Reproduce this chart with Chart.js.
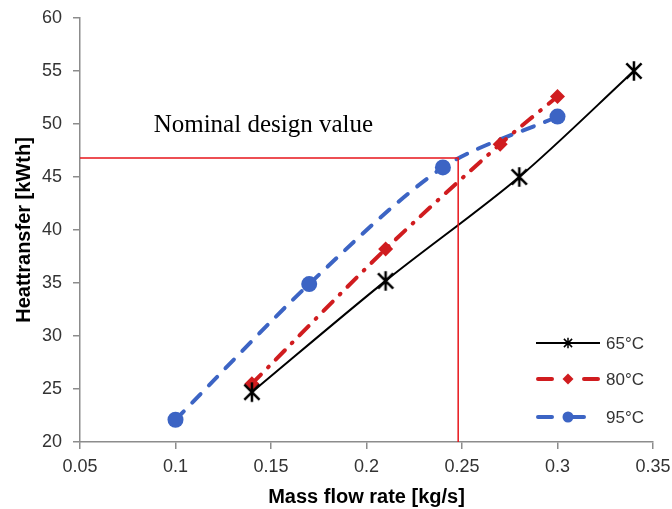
<!DOCTYPE html>
<html>
<head>
<meta charset="utf-8">
<script src="https://cdn.jsdelivr.net/npm/chart.js@4/dist/chart.umd.min.js"></script>
<style>
  html, body { margin: 0; padding: 0; background: #fff; }
  #wrap { width: 672px; height: 509px; }
</style>
</head>
<body>
<div id="wrap"><canvas id="heatChart" width="672" height="509"></canvas></div>
<script>
// values
const massFlow65 = [0.14, 0.21, 0.28, 0.34];
const heat65 = [24.7, 35.2, 45.0, 55.0];
const massFlow80 = [0.14, 0.21, 0.27, 0.30];
const heat80 = [25.5, 38.2, 48.1, 52.6];
const massFlow95 = [0.10, 0.17, 0.24, 0.30];
const heat95 = [22.1, 34.9, 45.9, 50.7];
// nominal design value guide lines
const nominalX = [0.05, 0.248, 0.248];
const nominalY = [46.8, 46.8, 20];
const xTicks = [0.05, 0.1, 0.15, 0.2, 0.25, 0.3, 0.35];
const yTicks = [20, 25, 30, 35, 40, 45, 50, 55, 60];
const seriesLabels = ["65°C", "80°C", "95°C"];

const BLACK = "#000000", RED = "#d01c1f", BLUE = "#3c64c4", GUIDE = "#e8161b";

function toPoints(xs, ys) {
    return xs.map((x, i) => ({ x: x, y: ys[i] }));
}

// Excel-like star marker: X with a vertical bar
function makeStar(size, lw) {
    const c = document.createElement("canvas");
    c.width = size; c.height = size;
    const g = c.getContext("2d");
    g.strokeStyle = BLACK;
    g.lineWidth = lw;
    const m = size / 2, r = size / 2 - lw / 2;
    const d = r * 0.78;
    g.beginPath();
    g.moveTo(m, m - r); g.lineTo(m, m + r);
    g.moveTo(m - d, m - d); g.lineTo(m + d, m + d);
    g.moveTo(m + d, m - d); g.lineTo(m - d, m + d);
    g.stroke();
    return c;
}
const bigStar = makeStar(22, 2.5);
const smallStar = makeStar(12, 1.5);

const datasets = [
    {
        label: "guide",
        data: toPoints(nominalX, nominalY),
        borderColor: GUIDE,
        borderWidth: 1.5,
        pointRadius: 0,
        tension: 0,
        showLine: true
    },
    {
        label: seriesLabels[0],
        data: toPoints(massFlow65, heat65),
        borderColor: BLACK,
        borderWidth: 2,
        pointStyle: bigStar,
        tension: 0.3,
        showLine: true
    },
    {
        label: seriesLabels[1],
        data: toPoints(massFlow80, heat80),
        borderColor: RED,
        backgroundColor: RED,
        borderWidth: 4,
        borderDash: [13, 10, 1, 10],
        borderCapStyle: "round",
        pointStyle: "rectRot",
        pointRadius: 7.5,
        pointBorderWidth: 0,
        tension: 0.3,
        showLine: true
    },
    {
        label: seriesLabels[2],
        data: toPoints(massFlow95, heat95),
        borderColor: BLUE,
        backgroundColor: BLUE,
        borderWidth: 4,
        borderDash: [12, 12],
        borderCapStyle: "round",
        pointStyle: "circle",
        pointRadius: 8,
        pointBorderWidth: 0,
        tension: 0.3,
        showLine: true
    }
];

// text note + legend drawn on top of the chart
const extrasPlugin = {
    id: "extras",
    afterDraw(chart) {
        const ctx = chart.ctx;
        const xs = chart.scales.x, ys = chart.scales.y;
        ctx.save();
        ctx.fillStyle = "#000";
        ctx.font = "25px 'Liberation Serif', 'Times New Roman', serif";
        ctx.textAlign = "center";
        ctx.textBaseline = "middle";
        ctx.fillText("Nominal design value", xs.getPixelForValue(0.146), ys.getPixelForValue(49.9));

        const rows = [343, 379, 417];
        const x0 = 536, x1 = 600, xm = 568;
        datasets.slice(1).forEach((ds, i) => {
            const y = rows[i];
            ctx.strokeStyle = ds.borderColor;
            ctx.lineCap = i === 0 ? "butt" : "round";
            ctx.lineWidth = i === 0 ? 2 : 4;
            ctx.beginPath();
            if (i === 0) {
                ctx.moveTo(x0, y); ctx.lineTo(x1, y);
            } else if (i === 1) {
                ctx.moveTo(x0 + 2, y); ctx.lineTo(x0 + 16, y);
                ctx.moveTo(x1 - 16, y); ctx.lineTo(x1 - 2, y);
            } else {
                ctx.moveTo(x0 + 2, y); ctx.lineTo(x0 + 16, y);
                ctx.moveTo(xm, y); ctx.lineTo(xm + 16, y);
            }
            ctx.stroke();
            ctx.fillStyle = ds.borderColor;
            if (i === 0) {
                ctx.drawImage(smallStar, xm - 6, y - 6);
            } else if (i === 1) {
                ctx.beginPath();
                ctx.moveTo(xm, y - 5.5); ctx.lineTo(xm + 5.5, y);
                ctx.lineTo(xm, y + 5.5); ctx.lineTo(xm - 5.5, y);
                ctx.closePath(); ctx.fill();
            } else {
                ctx.beginPath();
                ctx.arc(xm, y, 5.5, 0, Math.PI * 2);
                ctx.fill();
            }
            ctx.fillStyle = "#333";
            ctx.font = "17px 'Liberation Sans', Arial, sans-serif";
            ctx.textAlign = "left";
            ctx.fillText(ds.label, 606, y + 1);
        });
        ctx.restore();
    }
};

const axisGrey = "#8c8c8c";
new Chart(document.getElementById("heatChart").getContext("2d"), {
    type: "scatter",
    data: { datasets: datasets },
    options: {
        responsive: false,
        animation: false,
        layout: { padding: { left: 0, right: 19, top: 18, bottom: 0 } },
        plugins: { legend: { display: false }, tooltip: { enabled: false } },
        scales: {
            x: {
                type: "linear",
                min: 0.05,
                max: 0.35,
                afterBuildTicks: (scale) => { scale.ticks = xTicks.map(v => ({ value: v })); },
                afterFit: (scale) => {
                    scale.height = 67;
                    scale.paddingLeft = 0;
                    scale.paddingRight = 0;
                },
                border: { color: axisGrey, width: 1.5 },
                grid: { drawOnChartArea: false, drawTicks: true, tickLength: 7, color: axisGrey, lineWidth: 1.5 },
                ticks: {
                    color: "#333",
                    font: { family: "'Liberation Sans', Arial, sans-serif", size: 18 },
                    padding: 7,
                    maxRotation: 0,
                    callback: (v) => String(+Number(v).toFixed(2))
                },
                title: {
                    display: true,
                    text: "Mass flow rate [kg/s]",
                    color: "#000",
                    font: { family: "'Liberation Sans', Arial, sans-serif", size: 20, weight: "bold" },
                    padding: { top: 0, bottom: 0 }
                }
            },
            y: {
                type: "linear",
                min: 20,
                max: 60,
                afterBuildTicks: (scale) => { scale.ticks = yTicks.map(v => ({ value: v })); },
                afterFit: (scale) => {
                    scale.width = 80;
                    scale.paddingTop = 0;
                    scale.paddingBottom = 0;
                },
                border: { color: axisGrey, width: 1.5 },
                grid: { drawOnChartArea: false, drawTicks: true, tickLength: 7, color: axisGrey, lineWidth: 1.5 },
                ticks: {
                    color: "#333",
                    font: { family: "'Liberation Sans', Arial, sans-serif", size: 18 },
                    padding: 11
                },
                title: {
                    display: true,
                    text: "Heattransfer [kWth]",
                    color: "#000",
                    font: { family: "'Liberation Sans', Arial, sans-serif", size: 20, weight: "bold" },
                    padding: { top: 12, bottom: 0 }
                }
            }
        }
    },
    plugins: [extrasPlugin]
});
</script>
</body>
</html>
